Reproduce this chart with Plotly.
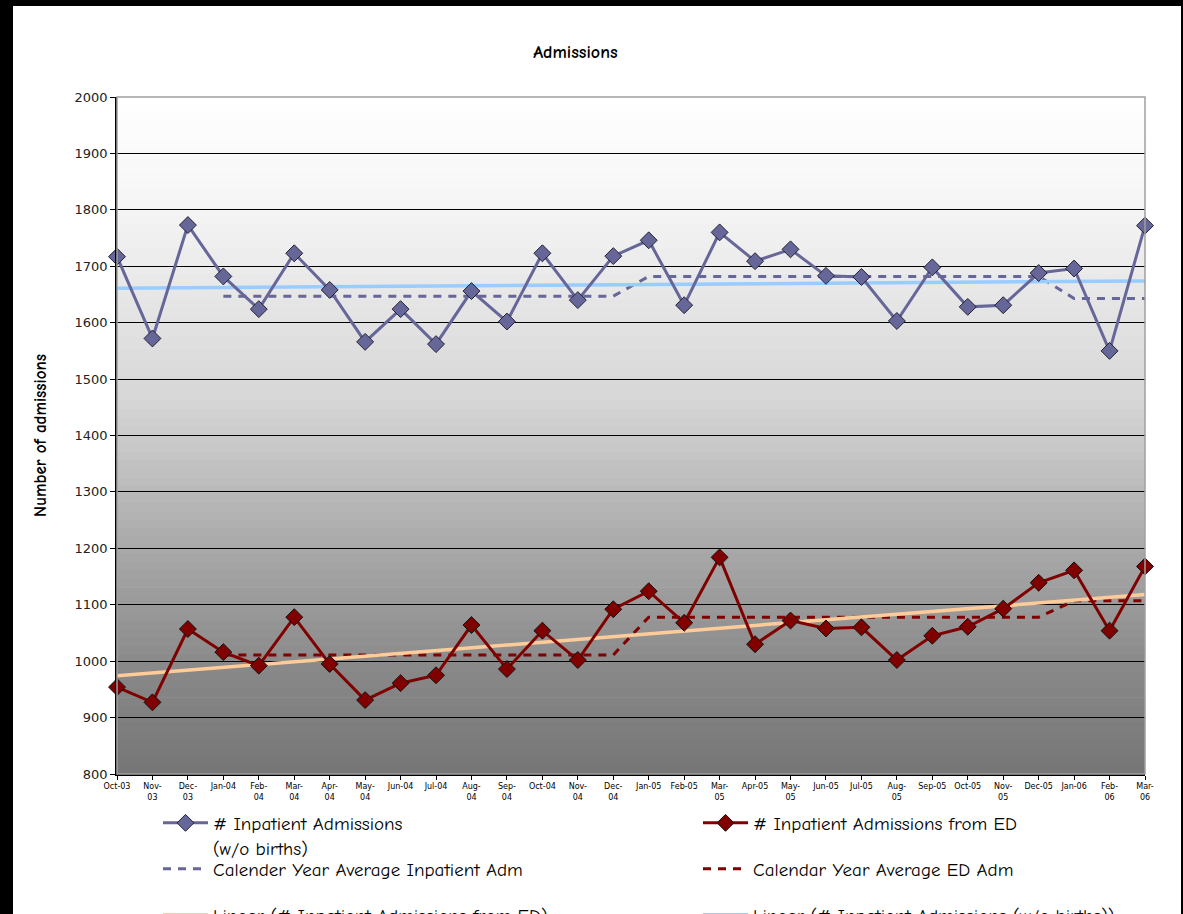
import plotly.graph_objects as go

# Monthly categories, Oct 2003 - Mar 2006
months = ["Oct-03", "Nov-03", "Dec-03", "Jan-04", "Feb-04", "Mar-04", "Apr-04", "May-04",
          "Jun-04", "Jul-04", "Aug-04", "Sep-04", "Oct-04", "Nov-04", "Dec-04", "Jan-05",
          "Feb-05", "Mar-05", "Apr-05", "May-05", "Jun-05", "Jul-05", "Aug-05", "Sep-05",
          "Oct-05", "Nov-05", "Dec-05", "Jan-06", "Feb-06", "Mar-06"]
tick_labels = ["Oct-03", "Nov-<br>03", "Dec-<br>03", "Jan-04", "Feb-<br>04", "Mar-<br>04",
               "Apr-<br>04", "May-<br>04", "Jun-04", "Jul-04", "Aug-<br>04", "Sep-<br>04",
               "Oct-04", "Nov-<br>04", "Dec-<br>04", "Jan-05", "Feb-05", "Mar-<br>05",
               "Apr-05", "May-<br>05", "Jun-05", "Jul-05", "Aug-<br>05", "Sep-05",
               "Oct-05", "Nov-<br>05", "Dec-05", "Jan-06", "Feb-<br>06", "Mar-<br>06"]

# Inpatient admissions (w/o births)
inpatient = [1717, 1572, 1773, 1682, 1624, 1723, 1658, 1566, 1624, 1562, 1656, 1602,
             1723, 1640, 1718, 1746, 1631, 1760, 1709, 1730, 1683, 1681, 1603, 1698,
             1628, 1631, 1688, 1696, 1550, 1772]
# Inpatient admissions from ED
from_ed = [954, 927, 1057, 1016, 992, 1078, 995, 931, 961, 975, 1064, 986,
           1054, 1002, 1092, 1124, 1068, 1184, 1030, 1072, 1058, 1060, 1002, 1045,
           1061, 1093, 1139, 1161, 1054, 1168]

# Calendar-year averages
avg_years = ["04", "05", "06"]
inpatient_year_avg = [1647, 1682, 1643]
ed_year_avg = [1011, 1078, 1107]

# Linear trend values at first and last month
inpatient_trend = [1661, 1674]
ed_trend = [974, 1118]


def year_avg_series(avgs):
    out = []
    for m in months:
        yr = m[-2:]
        out.append(avgs[avg_years.index(yr)] if yr in avg_years else None)
    return out


x = list(range(len(months)))
x_ends = [x[0], x[-1]]

SLATE = "#666699"
MAROON = "#800000"
LEGEND_FONT = "Comic Sans MS, Comic Neue, Open Sans, sans-serif"
AXIS_FONT = "Verdana, DejaVu Sans, sans-serif"

# Figure geometry (pixels)
L, R, T, B = 117, 38, 97, 140
W, H = 1183, 914
pw, ph = W - L - R, H - T - B


def px(xp):
    return (xp - L) / pw


def py(yp):
    return (H - B - yp) / ph


fig = go.Figure()

fig.add_trace(go.Scatter(
    x=x, y=year_avg_series(inpatient_year_avg), mode="lines",
    name="Calender Year Average Inpatient Adm", legend="legend3",
    line=dict(color=SLATE, width=3, dash="8px,7px"), cliponaxis=False))
fig.add_trace(go.Scatter(
    x=x, y=year_avg_series(ed_year_avg), mode="lines",
    name="Calendar Year Average ED Adm", legend="legend4",
    line=dict(color=MAROON, width=3, dash="8px,7px"), cliponaxis=False))
fig.add_trace(go.Scatter(
    x=x_ends, y=ed_trend, mode="lines",
    name="Linear (# Inpatient Admissions from ED)", legend="legend5",
    line=dict(color="#FFCC99", width=3.5), cliponaxis=False))
fig.add_trace(go.Scatter(
    x=x_ends, y=inpatient_trend, mode="lines",
    name="Linear (# Inpatient Admissions (w/o births))", legend="legend6",
    line=dict(color="#99CCFF", width=3.5), cliponaxis=False))
fig.add_trace(go.Scatter(
    x=x, y=inpatient, mode="lines+markers",
    name="# Inpatient Admissions<br>(w/o births)", legend="legend",
    line=dict(color=SLATE, width=3),
    marker=dict(symbol="diamond", size=13, color=SLATE, line=dict(color="#222233", width=1)),
    cliponaxis=False))
fig.add_trace(go.Scatter(
    x=x, y=from_ed, mode="lines+markers",
    name="# Inpatient Admissions from ED", legend="legend2",
    line=dict(color=MAROON, width=3),
    marker=dict(symbol="diamond", size=13, color=MAROON, line=dict(color="#111111", width=1)),
    cliponaxis=False))

# Plot-area background: vertical grey gradient, white at top
grad_stops = [(0.0, 255), (0.15, 246), (0.45, 214), (0.65, 172), (0.85, 136), (1.0, 118)]
n_bands = 80
shapes = []
for i in range(n_bands):
    t = (i + 0.5) / n_bands
    for (t0, c0), (t1, c1) in zip(grad_stops[:-1], grad_stops[1:]):
        if t0 <= t <= t1:
            c = round(c0 + (c1 - c0) * (t - t0) / (t1 - t0))
            break
    shapes.append(dict(type="rect", xref="paper", yref="paper", layer="below",
                       x0=0, x1=1, y0=1 - (i + 1) / n_bands, y1=1 - i / n_bands + 0.001,
                       fillcolor=f"rgb({c},{c},{c})", line=dict(width=0)))
# Plot-area frame (top/right grey)
shapes.append(dict(type="rect", xref="paper", yref="paper", layer="above",
                   x0=0, x1=1, y0=0, y1=1, line=dict(color="#A0A0A0", width=1.5)))

# Black frame around the picture (left, top, right edges)
black = dict(color="black", width=0)
shapes += [
    dict(type="rect", xref="paper", yref="paper", layer="above", x0=px(0), x1=px(13),
         y0=py(H), y1=py(0), fillcolor="black", line=black),
    dict(type="rect", xref="paper", yref="paper", layer="above", x0=px(0), x1=px(W),
         y0=py(6), y1=py(0), fillcolor="black", line=black),
    dict(type="rect", xref="paper", yref="paper", layer="above", x0=px(1181), x1=px(W),
         y0=py(H), y1=py(0), fillcolor="black", line=black),
]

legend_common = dict(orientation="v", yanchor="top", xanchor="left", valign="top",
                     bgcolor="rgba(0,0,0,0)", traceorder="normal", tracegroupgap=0,
                     itemwidth=45,
                     font=dict(family=LEGEND_FONT, size=19, color="black"))

# Two legend columns, one legend box per row
col_x = [158, 698]
row_top = [804, 850, 896]

fig.update_layout(
    width=W, height=H,
    margin=dict(l=L, r=R, t=T, b=B, pad=0, autoexpand=False),
    paper_bgcolor="white", plot_bgcolor="rgba(0,0,0,0)",
    shapes=shapes,
    title=dict(text="<b>Admissions</b>", x=px(617), xanchor="center", y=1 - 52 / H,
               yanchor="middle", font=dict(family=LEGEND_FONT, size=18, color="black")),
    xaxis=dict(range=[0, len(months) - 1], tickvals=x, ticktext=tick_labels,
               tickangle=0, ticks="outside", ticklen=4, tickcolor="black",
               showline=True, linecolor="black", linewidth=1.5, showgrid=False,
               zeroline=False,
               tickfont=dict(family=AXIS_FONT, size=8, color="black")),
    yaxis=dict(range=[800, 2000], dtick=100, ticks="outside", ticklen=5, tickcolor="black",
               showline=True, linecolor="black", linewidth=1.5,
               showgrid=True, gridcolor="black", gridwidth=1, zeroline=False,
               tickfont=dict(family=AXIS_FONT, size=13, color="#222222"),
               title=dict(text="<b>Number of admissions</b>", standoff=24,
                          font=dict(family=LEGEND_FONT, size=17, color="black"))),
    legend=dict(x=px(col_x[0]), y=py(row_top[0]), **legend_common),
    legend2=dict(x=px(col_x[1]), y=py(row_top[0]), **legend_common),
    legend3=dict(x=px(col_x[0]), y=py(row_top[1]), **legend_common),
    legend4=dict(x=px(col_x[1]), y=py(row_top[1]), **legend_common),
    legend5=dict(x=px(col_x[0]), y=py(row_top[2]), **legend_common),
    legend6=dict(x=px(col_x[1]), y=py(row_top[2]), **legend_common),
    showlegend=True,
)

fig.write_html("out.html")
